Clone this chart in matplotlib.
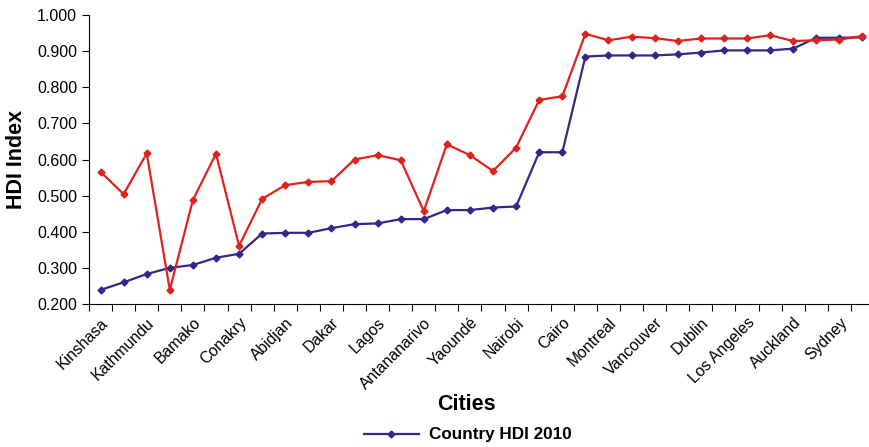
import matplotlib.pyplot as plt
import numpy as np

plt.rcParams['font.family'] = ['Liberation Sans', 'DejaVu Sans']

# only every other city is labelled on the axis
cities = ['Kinshasa', 'Kathmundu', 'Bamako', 'Conakry', 'Abidjan', 'Dakar', 'Lagos',
          'Antananarivo', 'Yaoundé', 'Nairobi', 'Cairo', 'Montreal', 'Vancouver',
          'Dublin', 'Los Angeles', 'Auckland', 'Sydney']

country_hdi = [0.239, 0.260, 0.283, 0.300, 0.308, 0.328, 0.339, 0.395, 0.397, 0.397,
               0.410, 0.421, 0.423, 0.435, 0.435, 0.460, 0.460, 0.467, 0.470, 0.620,
               0.620, 0.885, 0.888, 0.888, 0.888, 0.891, 0.896, 0.902, 0.902, 0.902,
               0.907, 0.937, 0.937, 0.938]

city_hdi = [0.566, 0.504, 0.617, 0.239, 0.488, 0.616, 0.361, 0.491, 0.529, 0.538,
            0.540, 0.600, 0.612, 0.598, 0.457, 0.642, 0.612, 0.568, 0.633, 0.765,
            0.775, 0.948, 0.930, 0.940, 0.936, 0.928, 0.935, 0.935, 0.935, 0.944,
            0.928, 0.930, 0.932, 0.942]

x = np.arange(len(country_hdi))

fig = plt.figure(figsize=(8.7, 4.47), dpi=100)
ax = fig.add_axes([89 / 870, 1 - 304 / 447, 785 / 870, 289 / 447])

blue, = ax.plot(x, country_hdi, color='#32288c', marker='D', markersize=3.5,
                linewidth=1.6, label='Country HDI 2010')
ax.plot(x, city_hdi, color='#e0211d', marker='D', markersize=3.5, linewidth=1.6)

ax.set_xlim(-0.5, len(x) - 0.5)
ax.set_ylim(0.2, 1.0)
ax.set_yticks(np.arange(0.2, 1.001, 0.1))
ax.set_yticklabels([f'{v:.3f}' for v in np.arange(0.2, 1.001, 0.1)], fontsize=11.5)

# category boundary ticks, labels at every second point
ax.set_xticks(np.arange(-0.5, len(x) + 0.5, 1))
ax.set_xticklabels([])
ax.set_xticks(np.arange(0, len(x), 2), minor=True)
ax.set_xticklabels(cities, minor=True, rotation=45, ha='right', rotation_mode='anchor',
                   fontsize=11.3)
ax.tick_params(axis='x', which='minor', length=0, pad=8)
ax.tick_params(axis='x', which='major', length=5, direction='out')
ax.tick_params(axis='y', length=5, direction='out')

for s in ['top', 'right']:
    ax.spines[s].set_visible(False)

ax.set_ylabel('HDI Index', fontsize=15.5, fontweight='bold', labelpad=7)
fig.text(466 / 870, 1 - 405 / 447, 'Cities', fontsize=15.5, fontweight='bold',
         ha='center', va='center')

fig.legend(handles=[blue], loc='center', bbox_to_anchor=(468 / 870, 1 - 435 / 447),
           frameon=False, prop={'size': 12.3, 'weight': 'bold'}, handlelength=3.2,
           handletextpad=0.6)

fig.savefig('out.png', dpi=100)
